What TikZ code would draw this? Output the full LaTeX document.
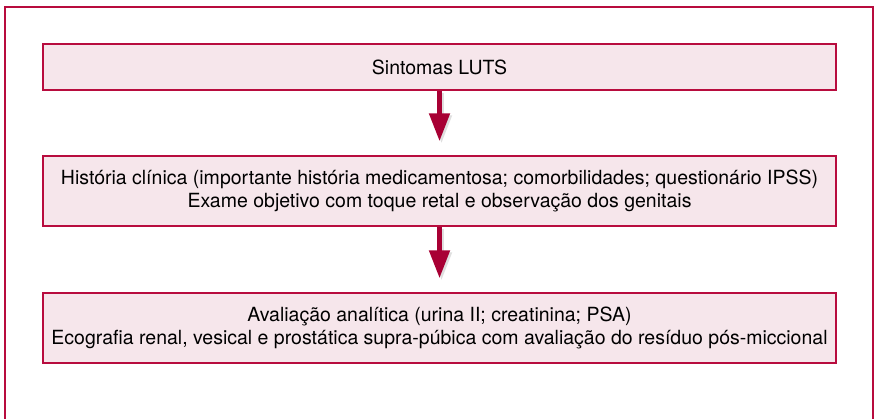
\documentclass[tikz,border=0pt]{standalone}
\usepackage{fontspec}
\setmainfont{TeX Gyre Heros}
\usetikzlibrary{arrows.meta, positioning}

\definecolor{lutsred}{RGB}{184,12,62}
\definecolor{lutsfill}{RGB}{246,230,235}
\definecolor{lutsarrow}{RGB}{168,0,52}

\begin{document}
\begin{tikzpicture}[
  x=1pt, y=-1pt,
  frame/.style={draw=lutsred, line width=2pt},
  stepbox/.style={rectangle, draw=lutsred, fill=lutsfill, line width=1.5pt, minimum width=793pt, align=center, font=\fontsize{19.5}{22.5}\selectfont, inner sep=0pt},
  flowarrow/.style={-{Triangle[width=20pt, length=28pt]}, line width=5pt, lutsarrow, shorten >=14pt},
  arrowshadow/.style={-{Triangle[width=20pt, length=28pt]}, line width=5pt, black!25, opacity=0.5, shorten >=14pt}
]
\useasboundingbox (0,0) rectangle (874,418);

% outer frame (open at the bottom)
\begin{scope}
  \clip (0,0) rectangle (874,418);
  \draw[frame] (5,430) -- (5,7) -- (873,7) -- (873,430);
\end{scope}

% steps
\node[stepbox, minimum height=46pt] (sint) at (439.5,67) {Sintomas LUTS};
\node[stepbox, minimum height=70pt] (hist) at (439.5,191)
  {História clínica (importante história medicamentosa; comorbilidades; questionário IPSS)\\
   Exame objetivo com toque retal e observação dos genitais};
\node[stepbox, minimum height=70pt] (aval) at (439.5,328)
  {Avaliação analítica (urina II; creatinina; PSA)\\
   Ecografia renal, vesical e prostática supra-púbica com avaliação do resíduo pós-miccional};

% arrows
\draw[arrowshadow, transform canvas={xshift=2pt, yshift=-2pt}] (sint) -- (hist);
\draw[flowarrow] (sint) -- (hist);
\draw[arrowshadow, transform canvas={xshift=2pt, yshift=-2pt}] (hist) -- (aval);
\draw[flowarrow] (hist) -- (aval);

\end{tikzpicture}
\end{document}
